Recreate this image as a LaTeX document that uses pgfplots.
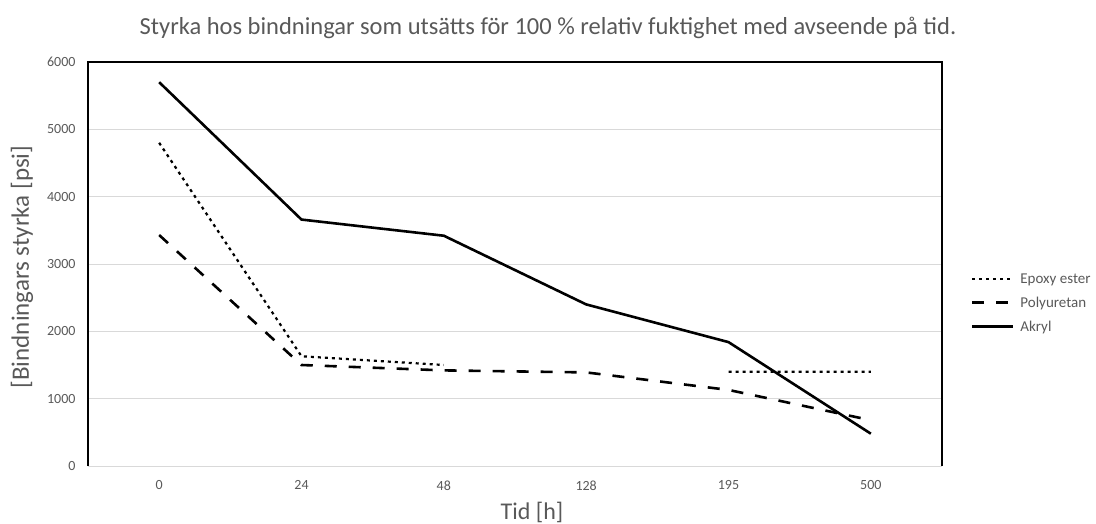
\documentclass[border=0pt]{standalone}
\usepackage{fontspec}
\setmainfont{Carlito}
\usepackage{pgfplots}
\pgfplotsset{compat=1.18}
\definecolor{txt}{HTML}{595959}
\definecolor{gridc}{HTML}{D9D9D9}
\begin{document}
\begin{tikzpicture}[x=1pt,y=1pt]
\useasboundingbox (0,0) rectangle (1096,523);
\begin{axis}[
  at={(88pt,57pt)}, anchor=south west,
  scale only axis, width=854pt, height=404pt,
  xmin=-0.5, xmax=5.5, ymin=0, ymax=6000,
  xtick={0,1,2,3,4,5}, xticklabels={0,24,48,128,195,500},
  ytick={0,1000,2000,3000,4000,5000,6000},
  ymajorgrids, major grid style={gridc, line width=1pt},
  axis line style={draw=none},
  major tick length=0pt,
  scaled y ticks=false,
  /pgf/number format/assume math mode=true,
  yticklabel={\pgfmathprintnumber[1000 sep={}]{\tick}},
  ticklabel style={font=\fontsize{14}{16}\selectfont, text=txt},
  yticklabel style={xshift=-9pt},
  xticklabel style={yshift=-11pt},
  unbounded coords=jump,
  legend style={draw=none, at={(1.03,0.403)}, anchor=west,
    font=\fontsize{15}{17}\selectfont, text=txt, row sep=8pt,
    fill=none},
  legend cell align=left,
  legend image code/.code={\draw[#1] (0pt,0pt) -- (41pt,0pt); \path (45pt,0pt);},
]
\addplot[black, line width=2.2pt, dash pattern=on 3pt off 4pt] coordinates {
  (0,4800) (1,1630) (2,1500) (3,nan) (4,1400) (5,1400)};
\addlegendentry{Epoxy ester}
\addplot[black, line width=2.6pt, dash pattern=on 12pt off 12pt] coordinates {
  (0,3430) (1,1500) (2,1420) (3,1390) (4,1130) (5,680)};
\addlegendentry{Polyuretan}
\addplot[black, line width=2.6pt] coordinates {
  (0,5700) (1,3660) (2,3420) (3,2400) (4,1840) (5,480)};
\addlegendentry{Akryl}
\end{axis}
\draw[black, line width=1.2pt] (88,57) -- (88,461) -- (942,461) -- (942,57);
\node[anchor=base, font=\fontsize{24.5}{28}\selectfont, text=txt] at (548,488)
  {Styrka hos bindningar som utsätts för 100 \% relativ fuktighet med avseende på tid.};
\node[rotate=90, font=\fontsize{25}{28}\selectfont, text=txt] at (22,256)
  {[Bindningars styrka [psi]};
\node[font=\fontsize{24}{26}\selectfont, text=txt] at (532,11) {Tid [h]};
\end{tikzpicture}
\end{document}
